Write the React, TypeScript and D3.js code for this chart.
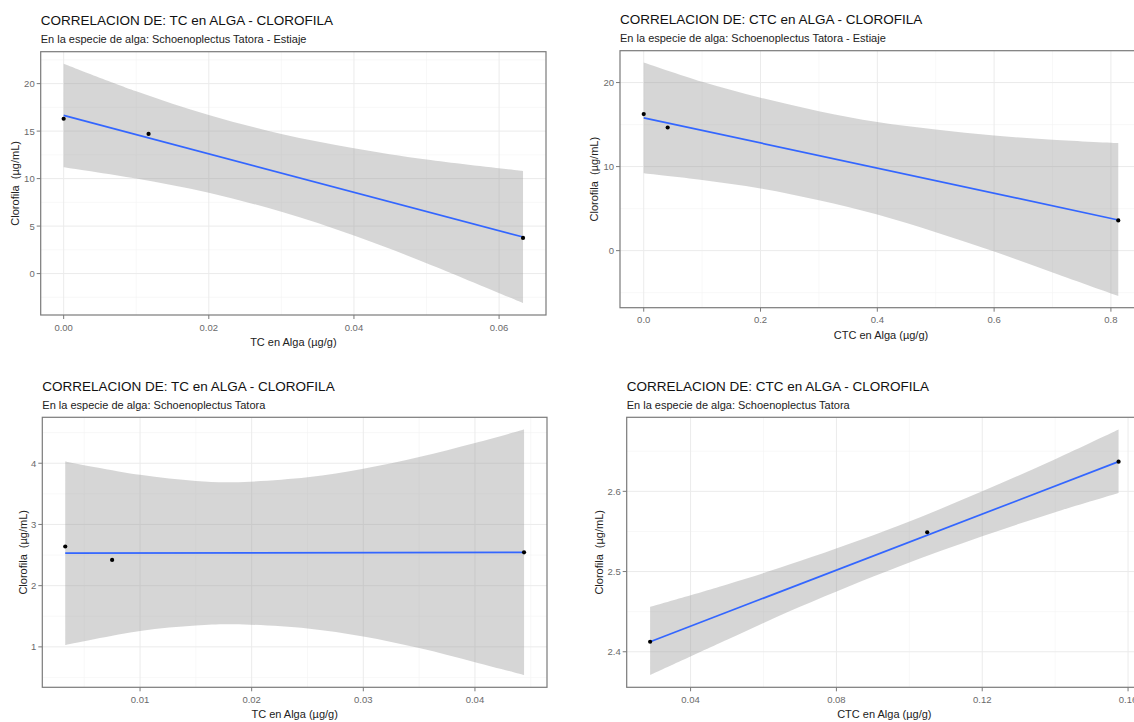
import React from 'react';
import * as d3 from 'd3';

// TC vs clorofila, Estiaje
const tlBandX = [0, 0.01, 0.02, 0.03, 0.04, 0.05, 0.0633];
const tlBandUpper = [22.1, 19.2, 16.7, 14.7, 13.2, 12.0, 10.8];
const tlBandLower = [11.2, 10.0, 8.5, 6.5, 4.0, 1.1, -3.1];
const tlFitX = [0, 0.0633];
const tlFitY = [16.66, 3.85];
const tlPointX = [0, 0.0117, 0.0633];
const tlPointY = [16.3, 14.7, 3.75];
const tlXTicks = [0, 0.02, 0.04, 0.06];
const tlYTicks = [0, 5, 10, 15, 20];

// CTC vs clorofila, Estiaje
const trBandX = [0, 0.1, 0.2, 0.3, 0.4, 0.5, 0.6, 0.7, 0.8126];
const trBandUpper = [22.4, 20.1, 18.2, 16.6, 15.3, 14.4, 13.7, 13.2, 12.8];
const trBandLower = [9.2, 8.4, 7.4, 6.0, 4.3, 2.2, -0.1, -2.6, -5.4];
const trFitX = [0, 0.8126];
const trFitY = [15.8, 3.65];
const trPointX = [0, 0.041, 0.8126];
const trPointY = [16.25, 14.65, 3.6];
const trXTicks = [0, 0.2, 0.4, 0.6, 0.8];
const trYTicks = [0, 10, 20];

// TC vs clorofila
const blBandX = [0.0033, 0.01, 0.015, 0.0184, 0.025, 0.03, 0.035, 0.04, 0.0444];
const blBandUpper = [4.03, 3.81, 3.71, 3.69, 3.77, 3.91, 4.1, 4.33, 4.55];
const blBandLower = [1.03, 1.26, 1.35, 1.37, 1.3, 1.17, 0.98, 0.75, 0.54];
const blFitX = [0.0033, 0.0444];
const blFitY = [2.53, 2.545];
const blPointX = [0.0033, 0.0075, 0.0444];
const blPointY = [2.64, 2.42, 2.545];
const blXTicks = [0.01, 0.02, 0.03, 0.04];
const blYTicks = [1, 2, 3, 4];

// CTC vs clorofila
const brBandX = [0.0289, 0.05, 0.07, 0.097, 0.12, 0.14, 0.1574];
const brBandUpper = [2.456, 2.484, 2.513, 2.557, 2.6, 2.64, 2.677];
const brBandLower = [2.371, 2.415, 2.456, 2.506, 2.544, 2.574, 2.598];
const brFitX = [0.0289, 0.1574];
const brFitY = [2.4125, 2.637];
const brPointX = [0.0289, 0.1049, 0.1574];
const brPointY = [2.4125, 2.549, 2.637];
const brXTicks = [0.04, 0.08, 0.12, 0.16];
const brYTicks = [2.4, 2.5, 2.6];

const FONT = "'Liberation Sans', Arial, sans-serif";

const expand = (vals: number[]) => {
  const [lo, hi] = d3.extent(vals) as [number, number];
  const pad = (hi - lo) * 0.05;
  return [lo - pad, hi + pad];
};

const minors = (ticks: number[], domain: number[]) => {
  const step = ticks[1] - ticks[0];
  const out: number[] = [];
  for (let i = -1; i < ticks.length; i++) {
    const v = ticks[0] + step * (i + 0.5);
    if (v > domain[0] && v < domain[1]) out.push(v);
  }
  return out;
};

const Panel = ({ box, title, subtitle, xLabel, yTitleOffset, bandX, upper, lower, fitX, fitY, ptX, ptY, xTicks, yTicks, xFmt, yFmt }: any) => {
  const [left, top, right, bottom] = box;
  const xDomain = expand(bandX);
  const yDomain = expand([...upper, ...lower, ...ptY]);
  const x = d3.scaleLinear().domain(xDomain).range([left, right]);
  const y = d3.scaleLinear().domain(yDomain).range([bottom, top]);

  const area = d3
    .area<number>()
    .x((d, i) => x(bandX[i]))
    .y0((d, i) => y(lower[i]))
    .y1((d) => y(d))
    .curve(d3.curveCatmullRom);
  const line = d3
    .line<number>()
    .x((d, i) => x(fitX[i]))
    .y((d) => y(d));

  const xMinor = minors(xTicks, xDomain);
  const yMinor = minors(yTicks, yDomain);
  const cx = (left + Math.min(right, 1142)) / 2;
  const cy = (top + bottom) / 2;

  return (
    <g>
      <text x={left} y={top - 31} fontSize={13.5} fill="#111" fontFamily={FONT} dominantBaseline="central">
        {title}
      </text>
      <text x={left} y={top - 12.5} fontSize={11} fill="#222" fontFamily={FONT} dominantBaseline="central">
        {subtitle}
      </text>
      {xMinor.map((v) => (
        <line key={`xm${v}`} x1={x(v)} x2={x(v)} y1={top} y2={bottom} stroke="#F3F3F3" strokeWidth={0.6} />
      ))}
      {yMinor.map((v) => (
        <line key={`ym${v}`} x1={left} x2={right} y1={y(v)} y2={y(v)} stroke="#F3F3F3" strokeWidth={0.6} />
      ))}
      {xTicks.map((v: number) => (
        <line key={`xg${v}`} x1={x(v)} x2={x(v)} y1={top} y2={bottom} stroke="#EBEBEB" strokeWidth={1} />
      ))}
      {yTicks.map((v: number) => (
        <line key={`yg${v}`} x1={left} x2={right} y1={y(v)} y2={y(v)} stroke="#EBEBEB" strokeWidth={1} />
      ))}
      <path d={area(upper) || ''} fill="#999999" fillOpacity={0.4} />
      <path d={line(fitY) || ''} fill="none" stroke="#3366FF" strokeWidth={1.7} />
      {ptX.map((v: number, i: number) => (
        <circle key={`p${i}`} cx={x(v)} cy={y(ptY[i])} r={2.1} fill="#000" />
      ))}
      <rect x={left} y={top} width={right - left} height={bottom - top} fill="none" stroke="#7A7A7A" strokeWidth={1.2} />
      {xTicks.map((v: number) => (
        <g key={`xt${v}`}>
          <line x1={x(v)} x2={x(v)} y1={bottom} y2={bottom + 4} stroke="#7A7A7A" strokeWidth={1} />
          <text x={x(v)} y={bottom + 12} fontSize={9.5} fill="#6A6A6A" textAnchor="middle" fontFamily={FONT} dominantBaseline="central">
            {xFmt(v)}
          </text>
        </g>
      ))}
      {yTicks.map((v: number) => (
        <g key={`yt${v}`}>
          <line x1={left - 4} x2={left} y1={y(v)} y2={y(v)} stroke="#7A7A7A" strokeWidth={1} />
          <text x={left - 6} y={y(v)} fontSize={9.5} fill="#6A6A6A" textAnchor="end" fontFamily={FONT} dominantBaseline="central">
            {yFmt(v)}
          </text>
        </g>
      ))}
      <text x={cx} y={bottom + 27} fontSize={11} fill="#222" textAnchor="middle" fontFamily={FONT} dominantBaseline="central">
        {xLabel}
      </text>
      <text
        transform={`translate(${left - yTitleOffset}, ${cy}) rotate(-90)`}
        fontSize={11}
        fill="#222"
        textAnchor="middle"
        fontFamily={FONT}
        dominantBaseline="central"
        style={{ whiteSpace: 'pre' }}
      >
        {'Clorofila  (µg/mL)'}
      </text>
    </g>
  );
};

const App = () => {
  const width = 1134;
  const height = 722;
  return (
    <svg
      width={width}
      height={height}
      viewBox={`0 0 ${width} ${height}`}
      style={{ position: 'absolute', left: 0, top: 0, background: '#fff' }}
    >
      <rect width={width} height={height} fill="#fff" />
      <Panel
        box={[40.7, 51.7, 546, 315]}
        title="CORRELACION DE: TC en ALGA - CLOROFILA"
        subtitle="En la especie de alga: Schoenoplectus Tatora - Estiaje"
        xLabel="TC en Alga (µg/g)"
        yTitleOffset={26}
        bandX={tlBandX}
        upper={tlBandUpper}
        lower={tlBandLower}
        fitX={tlFitX}
        fitY={tlFitY}
        ptX={tlPointX}
        ptY={tlPointY}
        xTicks={tlXTicks}
        yTicks={tlYTicks}
        xFmt={d3.format('.2f')}
        yFmt={d3.format('d')}
      />
      <Panel
        box={[620, 50.7, 1142, 307.7]}
        title="CORRELACION DE: CTC en ALGA - CLOROFILA"
        subtitle="En la especie de alga: Schoenoplectus Tatora - Estiaje"
        xLabel="CTC en Alga (µg/g)"
        yTitleOffset={26}
        bandX={trBandX}
        upper={trBandUpper}
        lower={trBandLower}
        fitX={trFitX}
        fitY={trFitY}
        ptX={trPointX}
        ptY={trPointY}
        xTicks={trXTicks}
        yTicks={trYTicks}
        xFmt={d3.format('.1f')}
        yFmt={d3.format('d')}
      />
      <Panel
        box={[42.3, 417.3, 547, 687.3]}
        title="CORRELACION DE: TC en ALGA - CLOROFILA"
        subtitle="En la especie de alga: Schoenoplectus Tatora"
        xLabel="TC en Alga (µg/g)"
        yTitleOffset={19}
        bandX={blBandX}
        upper={blBandUpper}
        lower={blBandLower}
        fitX={blFitX}
        fitY={blFitY}
        ptX={blPointX}
        ptY={blPointY}
        xTicks={blXTicks}
        yTicks={blYTicks}
        xFmt={d3.format('.2f')}
        yFmt={d3.format('d')}
      />
      <Panel
        box={[626.7, 417.3, 1142, 687.3]}
        title="CORRELACION DE: CTC en ALGA - CLOROFILA"
        subtitle="En la especie de alga: Schoenoplectus Tatora"
        xLabel="CTC en Alga (µg/g)"
        yTitleOffset={28}
        bandX={brBandX}
        upper={brBandUpper}
        lower={brBandLower}
        fitX={brFitX}
        fitY={brFitY}
        ptX={brPointX}
        ptY={brPointY}
        xTicks={brXTicks}
        yTicks={brYTicks}
        xFmt={d3.format('.2f')}
        yFmt={d3.format('.1f')}
      />
    </svg>
  );
};

export default App;
